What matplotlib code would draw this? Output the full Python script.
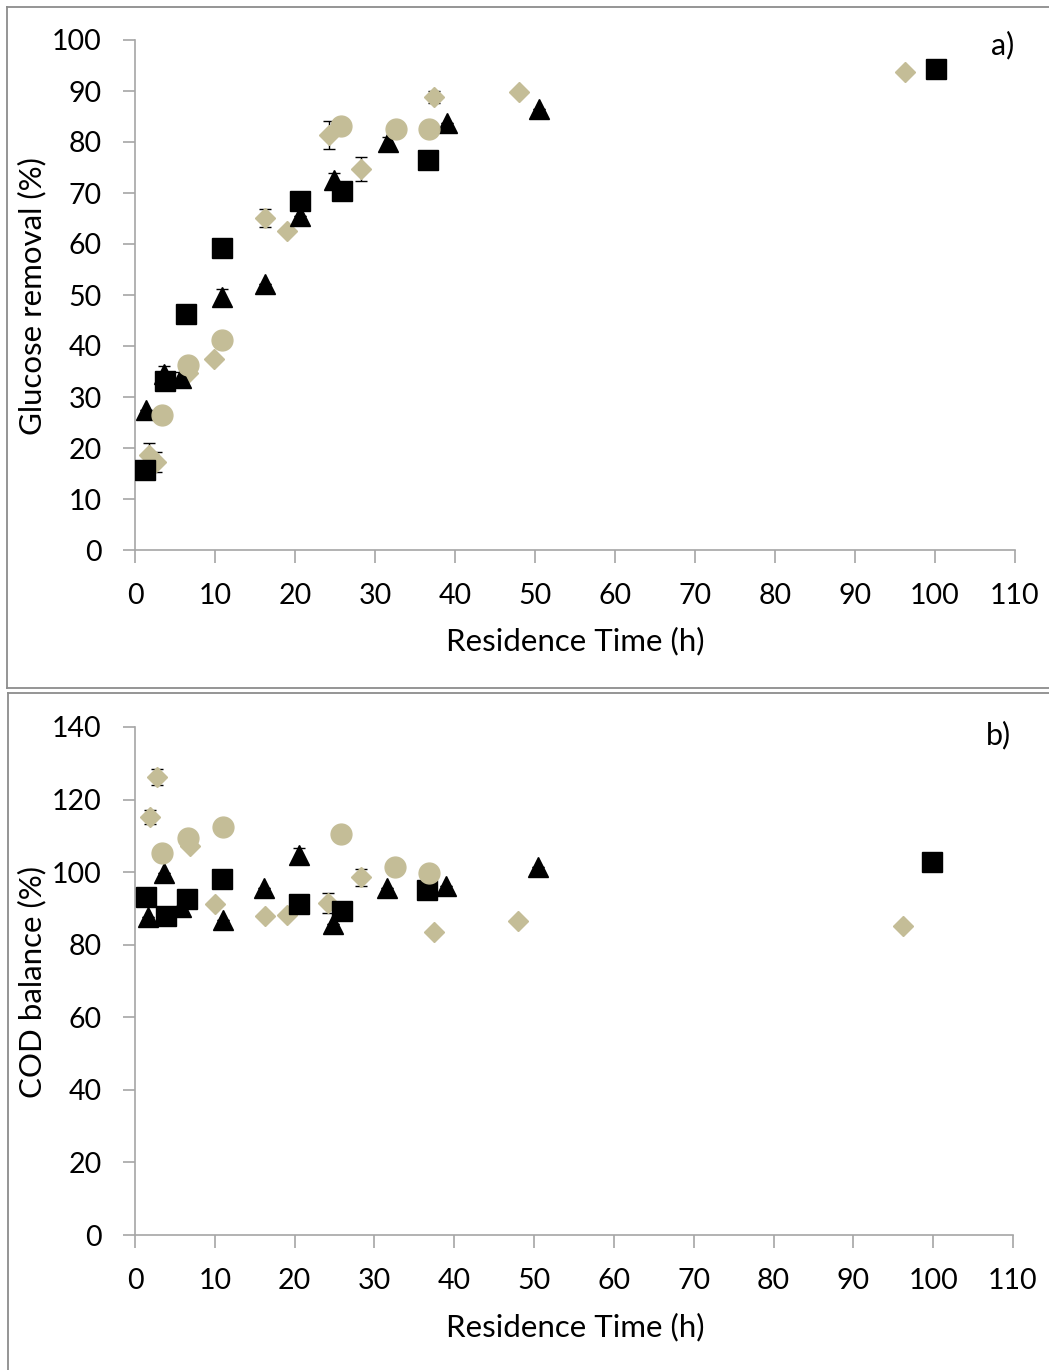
import matplotlib
matplotlib.use("Agg")
import matplotlib.pyplot as plt
from matplotlib.lines import Line2D
import numpy as np

plt.rcParams['font.family'] = ['Lato', 'DejaVu Sans']

TAN = '#C4BD97'
SPINE = '#A6A6A6'

# ---------------- Panel a: glucose removal ----------------
a_sq_x = [1.3, 3.7, 6.4, 10.9, 20.6, 25.9, 36.6, 100.1]
a_sq_y = [15.7, 33.1, 46.3, 59.2, 68.4, 70.4, 76.5, 94.3]

a_tri_x = [1.4, 3.6, 5.8, 10.9, 16.2, 20.6, 24.9, 31.6, 39.0, 50.5]
a_tri_y = [27.5, 34.5, 33.7, 49.6, 52.2, 65.5, 72.5, 80.0, 83.7, 86.5]
a_tri_e = [0.0, 1.5, 1.2, 1.5, 0.0, 0.0, 1.5, 1.0, 0.0, 0.0]

a_dia_x = [1.8, 2.6, 6.6, 9.9, 16.3, 19.0, 24.2, 28.3, 37.4, 48.0, 96.2]
a_dia_y = [18.6, 17.3, 34.7, 37.5, 65.1, 62.5, 81.4, 74.7, 88.8, 89.8, 93.7]
a_dia_e = [2.4, 2.0, 0.0, 0.0, 1.8, 0.0, 2.8, 2.3, 1.2, 0.0, 0.0]

a_cir_x = [3.4, 6.6, 10.9, 25.8, 32.6, 36.8]
a_cir_y = [26.5, 36.3, 41.2, 83.1, 82.5, 82.5]

# ---------------- Panel b: COD balance ----------------
b_sq_x = [1.4, 3.9, 6.5, 10.9, 20.6, 25.9, 36.6, 99.9]
b_sq_y = [93.1, 87.9, 92.6, 98.1, 91.2, 89.3, 95.0, 102.8]

b_tri_x = [1.6, 3.6, 5.8, 11.0, 16.2, 20.6, 24.8, 31.6, 39.0, 50.5]
b_tri_y = [87.6, 99.7, 90.4, 86.8, 95.6, 104.7, 85.7, 95.6, 96.2, 101.4]
b_tri_e = [0.0, 0.0, 0.0, 0.0, 0.0, 2.0, 0.0, 0.0, 0.0, 0.0]

b_dia_x = [1.9, 2.7, 6.9, 10.0, 16.3, 19.0, 24.2, 28.3, 37.5, 48.0, 96.2]
b_dia_y = [115.2, 126.2, 107.2, 91.2, 87.9, 88.2, 91.5, 98.6, 83.5, 86.5, 85.1]
b_dia_e = [2.0, 2.2, 0.0, 0.0, 0.0, 0.0, 2.7, 2.3, 0.0, 0.0, 0.0]

b_cir_x = [3.4, 6.7, 11.0, 25.8, 32.6, 36.8]
b_cir_y = [105.3, 109.4, 112.4, 110.5, 101.4, 99.7]

x_ticks = list(range(0, 111, 10))
a_y_ticks = list(range(0, 101, 10))
b_y_ticks = list(range(0, 141, 20))

W, H = 1049, 1370
fig = plt.figure(figsize=(W / 100, H / 100), dpi=100)


def frac(x0, y0, x1, y1):
    return [x0 / W, 1 - y1 / H, (x1 - x0) / W, (y1 - y0) / H]


# chart-area frames
frame_kw = dict(color='#8C8C8C', lw=1.3, transform=fig.transFigure)
fig.add_artist(Line2D([7 / W, 1.0], [1 - 7 / H, 1 - 7 / H], **frame_kw))
fig.add_artist(Line2D([7 / W, 7 / W], [1 - 7 / H, 1 - 688 / H], **frame_kw))
fig.add_artist(Line2D([7 / W, 1.0], [1 - 688 / H, 1 - 688 / H], **frame_kw))
fig.add_artist(Line2D([8 / W, 1.0], [1 - 693 / H, 1 - 693 / H], **frame_kw))
fig.add_artist(Line2D([8 / W, 8 / W], [1 - 693 / H, 0.0], **frame_kw))

ax1 = fig.add_axes(frac(135, 40, 1015, 550))
ax2 = fig.add_axes(frac(135, 727, 1013, 1235))


def draw(ax, sx, sy, tx, ty, te, dx, dy, de, cx, cy):
    ekw = dict(ecolor='black', elinewidth=1.0, capsize=4.5, capthick=1.0, linestyle='none')
    ax.errorbar(dx, dy, yerr=de, marker='D', ms=10.5, mfc=TAN, mec=TAN, zorder=3, **ekw)
    ax.errorbar(tx, ty, yerr=te, marker='^', ms=15, mfc='black', mec='black', zorder=4, **ekw)
    ax.plot(sx, sy, linestyle='none', marker='s', ms=15, mfc='black', mec='black', zorder=5)
    ax.plot(cx, cy, linestyle='none', marker='o', ms=15, mfc=TAN, mec=TAN, zorder=6)


draw(ax1, a_sq_x, a_sq_y, a_tri_x, a_tri_y, a_tri_e, a_dia_x, a_dia_y, a_dia_e, a_cir_x, a_cir_y)
draw(ax2, b_sq_x, b_sq_y, b_tri_x, b_tri_y, b_tri_e, b_dia_x, b_dia_y, b_dia_e, b_cir_x, b_cir_y)

for ax, yt, ymax in [(ax1, a_y_ticks, 100), (ax2, b_y_ticks, 140)]:
    ax.set_xlim(0, 110)
    ax.set_ylim(0, ymax)
    ax.set_xticks(x_ticks)
    ax.set_yticks(yt)
    for s in ['top', 'right']:
        ax.spines[s].set_visible(False)
    for s in ['left', 'bottom']:
        ax.spines[s].set_color(SPINE)
        ax.spines[s].set_linewidth(1.2)
    ax.tick_params(axis='both', direction='out', length=9, width=1.2, color=SPINE,
                   labelsize=20.5, labelcolor='black')
    ax.tick_params(axis='y', pad=15)
    ax.tick_params(axis='x', pad=15)
    for lab in ax.get_xticklabels() + ax.get_yticklabels():
        lab.set_clip_on(False)
    ax.patch.set_alpha(0)

fig.text(575 / W, 1 - 641 / H, 'Residence Time (h)', ha='center', va='center', fontsize=22.5)
fig.text(575 / W, 1 - 1327 / H, 'Residence Time (h)', ha='center', va='center', fontsize=22.5)
fig.text(32 / W, 1 - 296 / H, 'Glucose removal (%)', ha='center', va='center', rotation=90, fontsize=22.5)
fig.text(32 / W, 1 - 982 / H, 'COD balance (%)', ha='center', va='center', rotation=90, fontsize=22.5)
fig.text(1003 / W, 1 - 45 / H, 'a)', ha='center', va='center', fontsize=22)
fig.text(998 / W, 1 - 735 / H, 'b)', ha='center', va='center', fontsize=22)

fig.savefig('out.png', dpi=100)
